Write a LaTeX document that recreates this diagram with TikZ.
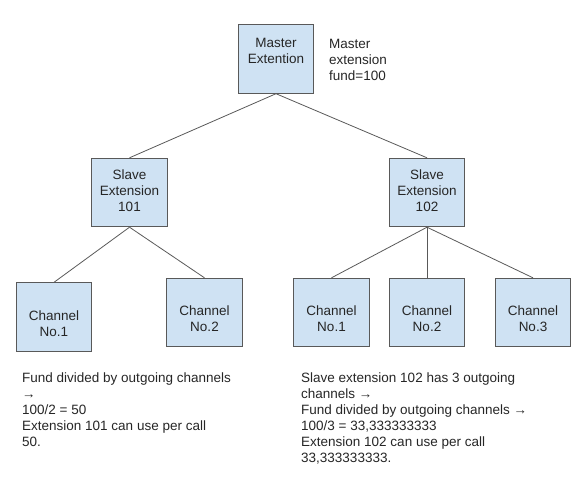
\documentclass[tikz,border=0pt]{standalone}
\usepackage{fontspec}
\setmainfont{Liberation Sans}
\usetikzlibrary{positioning,calc}
\definecolor{boxblue}{HTML}{CFE2F3}
\definecolor{edgegray}{HTML}{595959}

\begin{document}
\begin{tikzpicture}[
    x=1pt, y=-1pt,
    font=\fontsize{13.5}{16}\selectfont,
    box/.style={draw=edgegray, fill=boxblue, line width=0.9pt,
                minimum width=75.5pt, minimum height=68.5pt, inner sep=0pt},
    boxtxt/.style={align=center, text=black!85, inner sep=0pt},
    note/.style={align=left, text=black!85, inner sep=0pt, anchor=west},
    link/.style={edgegray, line width=0.8pt},
  ]
  \useasboundingbox (0,0) rectangle (588,491);

  % ---------- boxes: master, slaves, channels ----------
  \node[box] (master) at (276,59) {};
  \node[box] (slaveA) at (129.5,192.5) {};
  \node[box] (slaveB) at (427,192.5) {};
  \node[box] (chanA1) at (54,317) {};
  \node[box] (chanA2) at (204.5,312.5) {};
  \node[box] (chanB1) at (331.5,312.5) {};
  \node[box] (chanB2) at (427,312.5) {};
  \node[box] (chanB3) at (533,312.5) {};

  % ---------- box texts ----------
  \node[boxtxt] (masterT) at ($(master)+(0,-8)$) {Master\\Extention};
  \node[boxtxt] (slaveAT) at ($(slaveA)+(0,-1.5)$) {Slave\\Extension\\101};
  \node[boxtxt] (slaveBT) at ($(slaveB)+(0,-1.5)$) {Slave\\Extension\\102};
  \foreach \c/\n in {chanA1/1, chanA2/2, chanB1/1, chanB2/2, chanB3/3}
    \node[boxtxt] (\c T) at ($(\c)+(0,6.5)$) {Channel\\No.\n};

  % ---------- tree links ----------
  \foreach \a/\b in {master/slaveA, master/slaveB,
                     slaveA/chanA1, slaveA/chanA2,
                     slaveB/chanB1, slaveB/chanB2, slaveB/chanB3}
    \draw[link] (\a.south) -- (\b.north);

  % ---------- notes ----------
  \node[note] (fundnote) at (329,60) {Master\\extension\\fund=100};
  \node[note] (noteA) at (22,410)
    {Fund divided by outgoing channels\\→\\100/2 = 50\\Extension 101 can use per call\\50.};
  \node[note] (noteB) at (301,418)
    {Slave extension 102 has 3 outgoing\\channels →\\Fund divided by outgoing channels →\\100/3 = 33,333333333\\Extension 102 can use per call\\33,333333333.};

\end{tikzpicture}
\end{document}
